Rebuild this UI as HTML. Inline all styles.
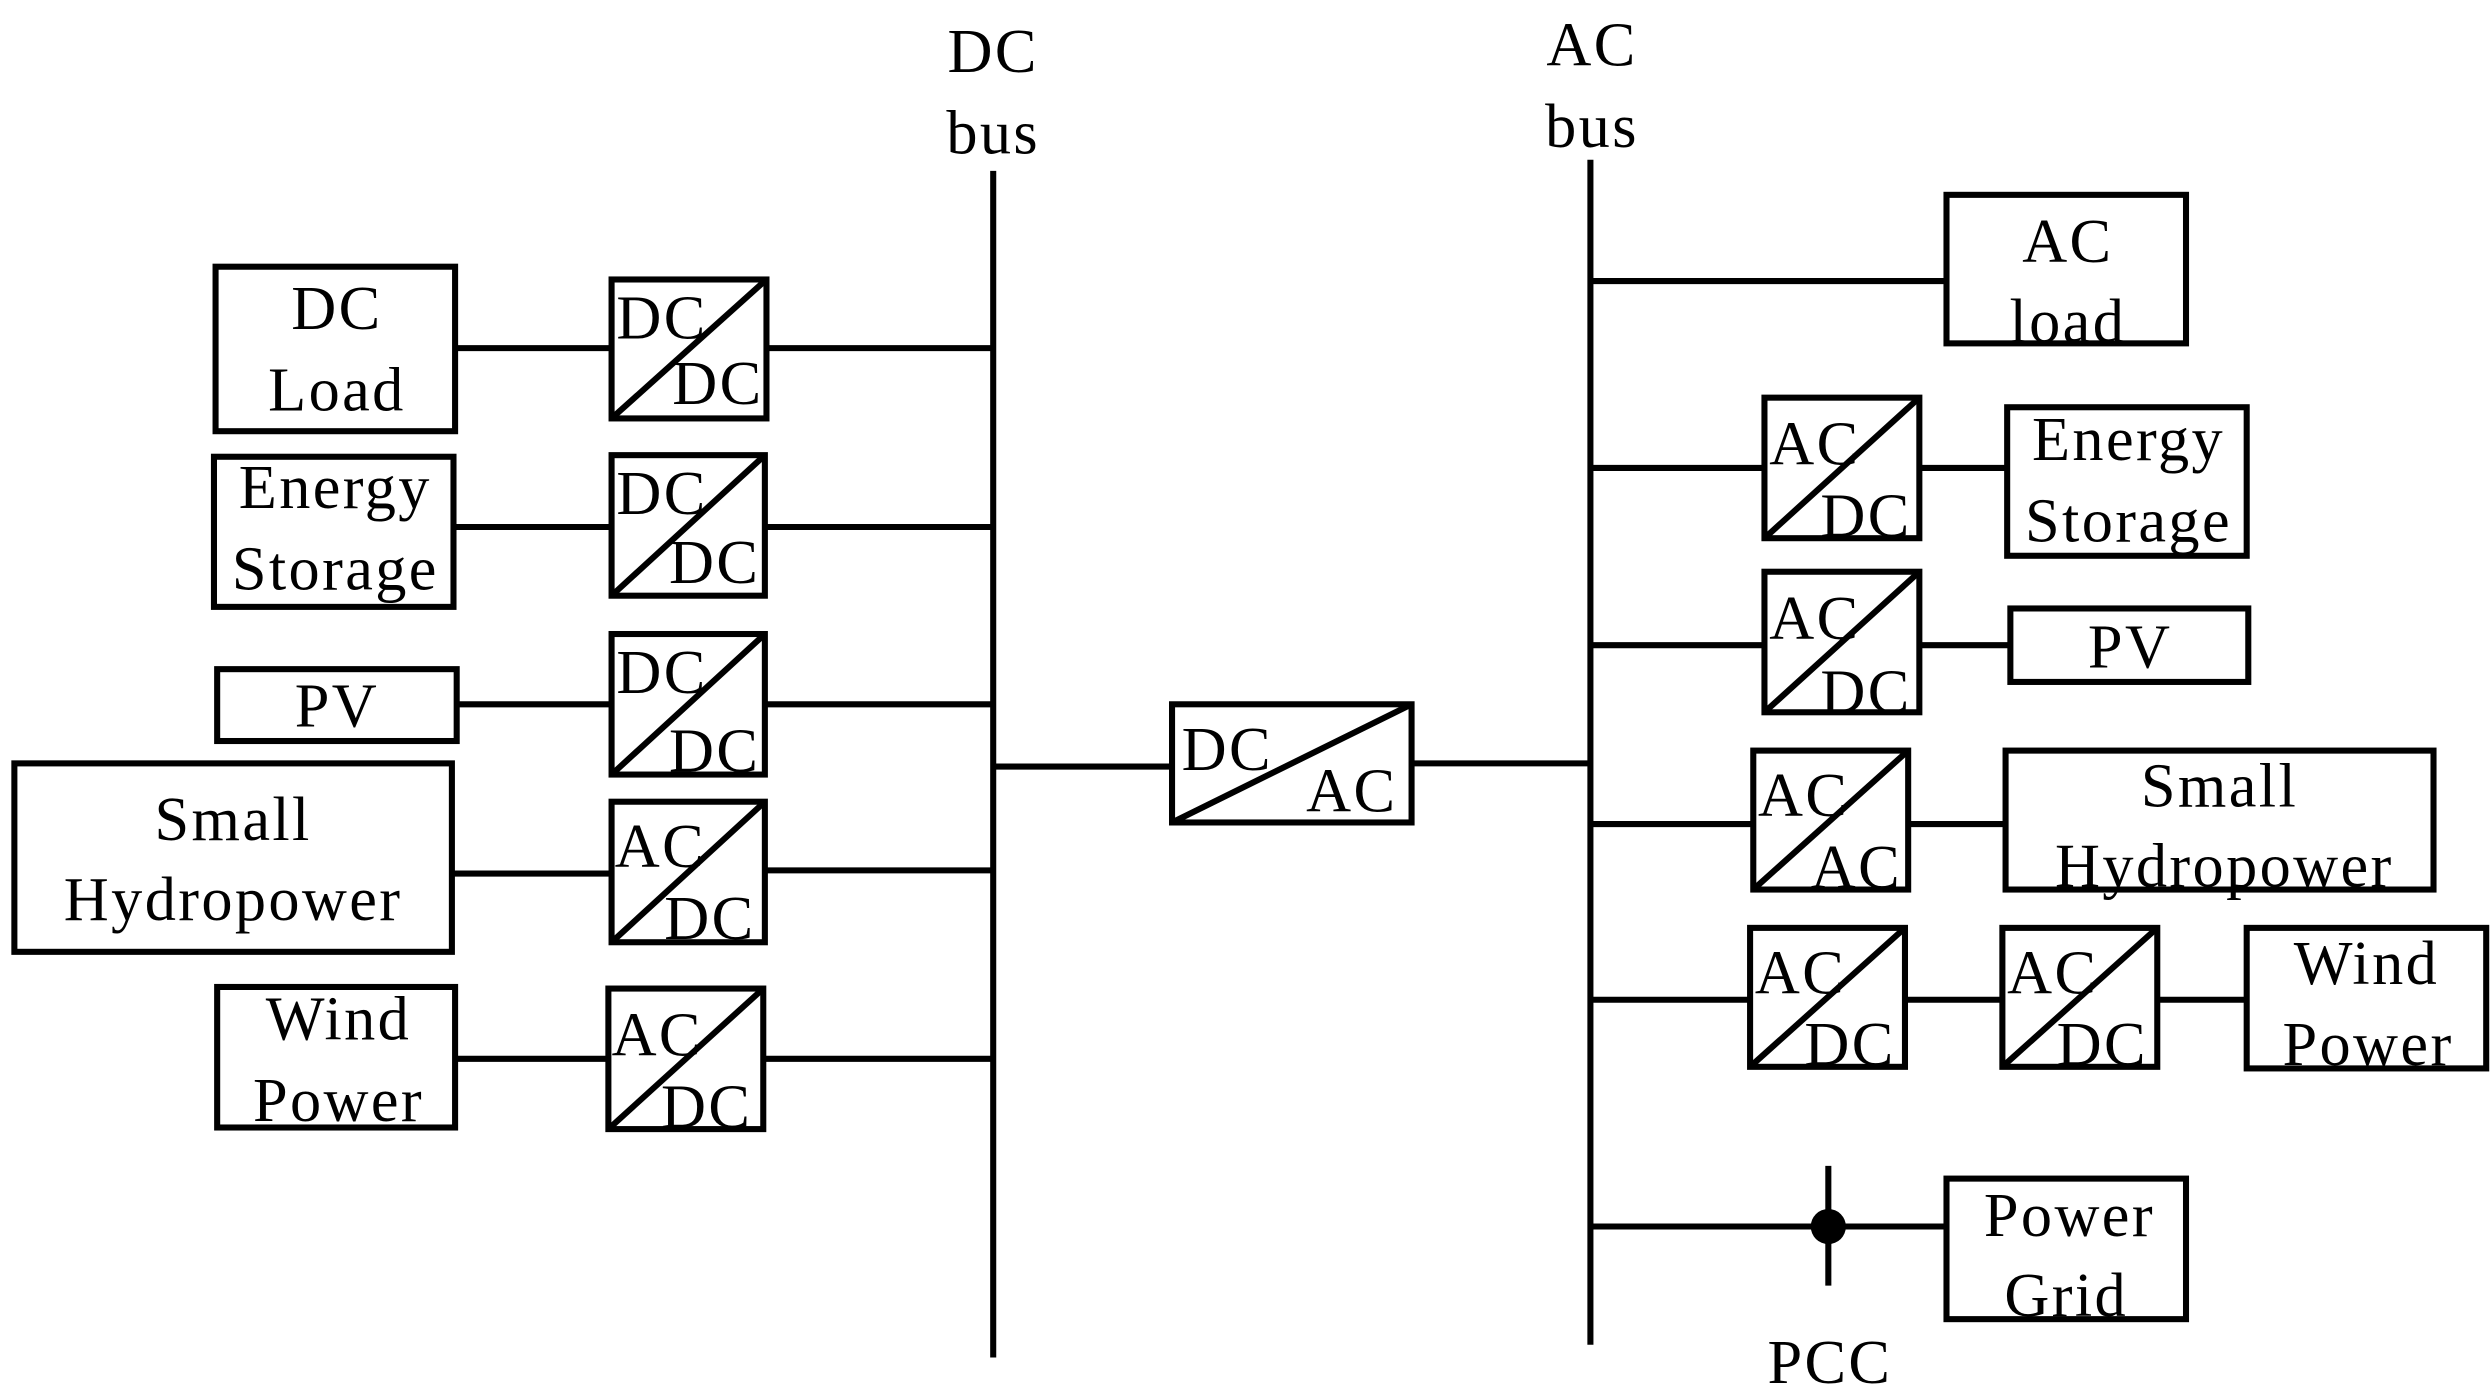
<!DOCTYPE html>
<html><head><meta charset="utf-8"><style>
html,body{margin:0;padding:0;background:#fff;}
svg{display:block;}
text{font-family:"Liberation Serif",serif;font-size:39px;fill:#000;letter-spacing:1.5px;}
</style></head><body>
<svg width="2491" height="1399" viewBox="0 0 1560 876" preserveAspectRatio="none" xmlns="http://www.w3.org/2000/svg">
<g stroke="#000" stroke-width="3.8" fill="none">
<line x1="622" y1="107" x2="622" y2="850"/>
<line x1="996" y1="100" x2="996" y2="842"/>
<rect x="135" y="167" width="150" height="103"/>
<rect x="134" y="286" width="150" height="94"/>
<rect x="136" y="419" width="150" height="45"/>
<rect x="9" y="478" width="274" height="118"/>
<rect x="136" y="618" width="149" height="88"/>
<line x1="285" y1="218" x2="383" y2="218"/><line x1="480" y1="218" x2="622" y2="218"/>
<line x1="284" y1="330" x2="383" y2="330"/><line x1="479" y1="330" x2="622" y2="330"/>
<line x1="286" y1="441" x2="383" y2="441"/><line x1="479" y1="441" x2="622" y2="441"/>
<line x1="283" y1="547" x2="383" y2="547"/><line x1="479" y1="545" x2="622" y2="545"/>
<line x1="285" y1="663" x2="381" y2="663"/><line x1="478" y1="663" x2="622" y2="663"/>
<rect x="383" y="175" width="97" height="87"/><line x1="383" y1="262" x2="480" y2="175"/>
<rect x="383" y="285" width="96" height="88"/><line x1="383" y1="373" x2="479" y2="285"/>
<rect x="383" y="397" width="96" height="88"/><line x1="383" y1="485" x2="479" y2="397"/>
<rect x="383" y="502" width="96" height="88"/><line x1="383" y1="590" x2="479" y2="502"/>
<rect x="381" y="619" width="97" height="88"/><line x1="381" y1="707" x2="478" y2="619"/>
<line x1="622" y1="480" x2="734" y2="480"/>
<rect x="734" y="441" width="150" height="74"/><line x1="734" y1="515" x2="884" y2="441"/>
<line x1="884" y1="478" x2="996" y2="478"/>
<line x1="996" y1="176" x2="1219" y2="176"/>
<rect x="1219" y="122" width="150" height="93"/>
<line x1="996" y1="293" x2="1105" y2="293"/><line x1="1202" y1="293" x2="1257" y2="293"/>
<rect x="1105" y="249" width="97" height="88"/><line x1="1105" y1="337" x2="1202" y2="249"/>
<rect x="1257" y="255" width="150" height="93"/>
<line x1="996" y1="404" x2="1105" y2="404"/><line x1="1202" y1="404" x2="1259" y2="404"/>
<rect x="1105" y="358" width="97" height="88"/><line x1="1105" y1="446" x2="1202" y2="358"/>
<rect x="1259" y="381" width="149" height="46"/>
<line x1="996" y1="516" x2="1098" y2="516"/><line x1="1195" y1="516" x2="1256" y2="516"/>
<rect x="1098" y="470" width="97" height="87"/><line x1="1098" y1="557" x2="1195" y2="470"/>
<rect x="1256" y="470" width="268" height="87"/>
<line x1="996" y1="626" x2="1096" y2="626"/><line x1="1193" y1="626" x2="1254" y2="626"/><line x1="1351" y1="626" x2="1407" y2="626"/>
<rect x="1096" y="581" width="97" height="87"/><line x1="1096" y1="668" x2="1193" y2="581"/>
<rect x="1254" y="581" width="97" height="87"/><line x1="1254" y1="668" x2="1351" y2="581"/>
<rect x="1407" y="581" width="150" height="88"/>
<line x1="996" y1="768" x2="1219" y2="768"/>
<line x1="1145" y1="730" x2="1145" y2="805"/>
<rect x="1219" y="738" width="150" height="88"/>
</g>
<circle cx="1145" cy="768" r="11" fill="#000"/>
<g text-anchor="middle">
<text x="622" y="45">DC</text><text x="622" y="96">bus</text>
<text x="997" y="41">AC</text><text x="997" y="92">bus</text>
<text x="211" y="206">DC</text><text x="211" y="257">Load</text>
<text x="210" y="318">Energy</text><text x="210" y="369">Storage</text>
<text x="211" y="455">PV</text>
<text x="146" y="526">Small</text><text x="146" y="576">Hydropower</text>
<text x="212" y="651">Wind</text><text x="212" y="702">Power</text>
<text x="1295" y="164">AC</text><text x="1295" y="214">load</text>
<text x="1333" y="288">Energy</text><text x="1333" y="339">Storage</text>
<text x="1334" y="418">PV</text>
<text x="1390" y="505">Small</text><text x="1393" y="555">Hydropower</text>
<text x="1482" y="616">Wind</text><text x="1483" y="667">Power</text>
<text x="1296" y="774">Power</text><text x="1294" y="824">Grid</text>
<text x="1146" y="866">PCC</text>
</g>
<g>
<text x="386" y="212">DC</text><text x="421" y="253">DC</text>
<text x="386" y="322">DC</text><text x="419" y="365">DC</text>
<text x="386" y="434">DC</text><text x="419" y="483">DC</text>
<text x="385" y="543">AC</text><text x="416" y="588">DC</text>
<text x="383" y="661">AC</text><text x="414" y="706">DC</text>
<text x="740" y="482">DC</text><text x="818" y="508">AC</text>
<text x="1108" y="291">AC</text><text x="1140" y="336">DC</text>
<text x="1108" y="400">AC</text><text x="1140" y="446">DC</text>
<text x="1101" y="511">AC</text><text x="1134" y="556">AC</text>
<text x="1099" y="622">AC</text><text x="1130" y="667">DC</text>
<text x="1257" y="622">AC</text><text x="1288" y="667">DC</text>
</g>
</svg>
</body></html>
